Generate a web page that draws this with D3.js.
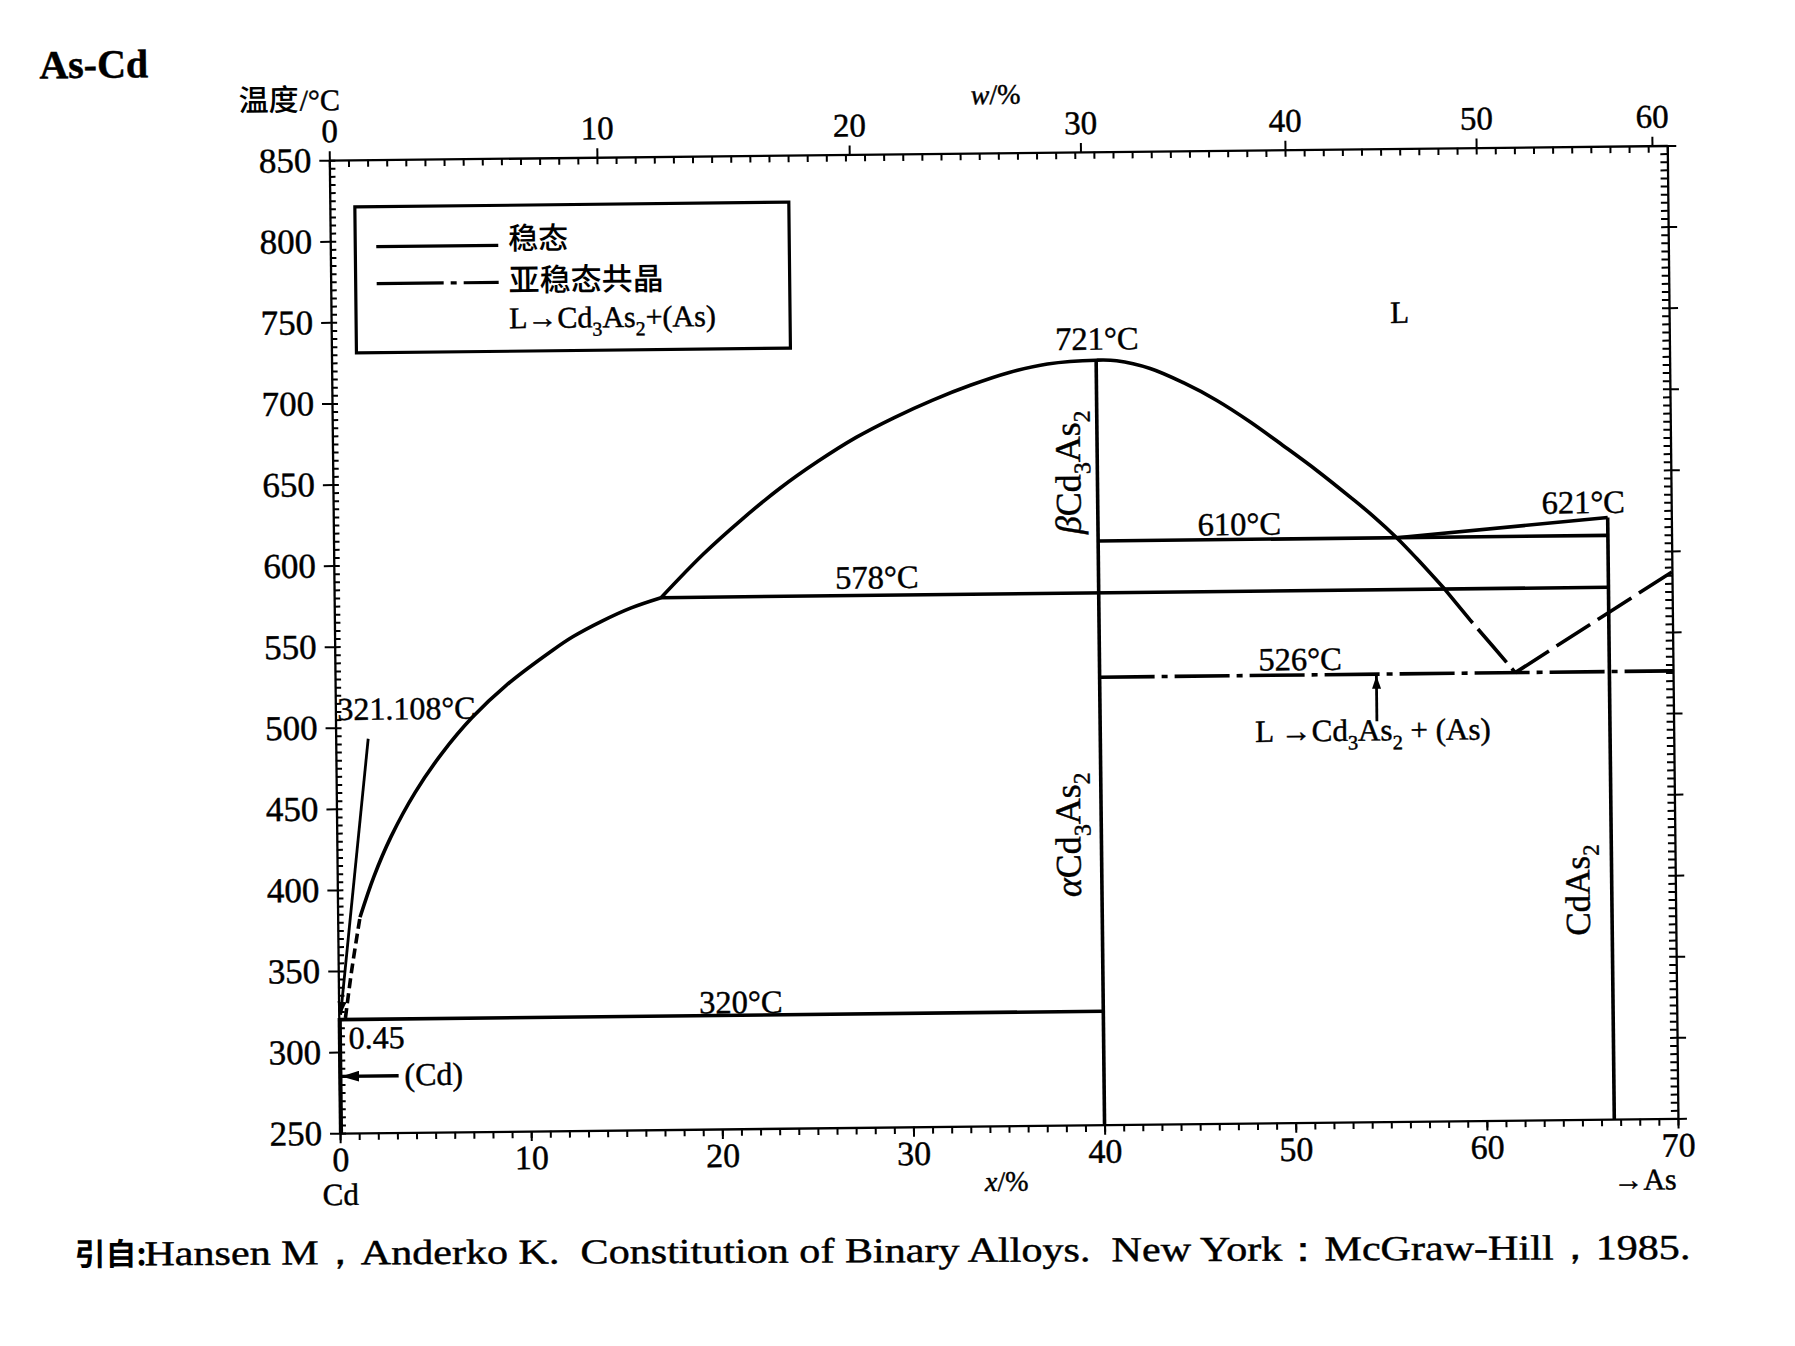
<!DOCTYPE html>
<html><head><meta charset="utf-8">
<script src="https://cdn.jsdelivr.net/npm/d3@7"></script>
<style>body{margin:0;background:#fff}svg{display:block}text{white-space:pre;stroke:#000;stroke-width:0.45px}</style>
</head><body>
<svg id="c" width="1795" height="1346"></svg>
<script>
// ---------- data ----------
const tempTicks = [250,300,350,400,450,500,550,600,650,700,750,800,850];
const xTicks = [0,10,20,30,40,50,60,70];
const wTickX = [0,14.0,27.2,39.3,50.0,60.0,69.2];
const wTickLabels = ["0","10","20","30","40","50","60"];

// Cd-side liquidus (metastable dashed part, then solid)
const liqCdMetaX = [0.35,0.7,1.17];
const liqCdMetaT = [321,350,383];
const liqCdX = [1.17,1.92,2.84,4.12,5.55,7.16,8.95,11.42,12.46,14.0,15.5,17.1];
const liqCdT = [383,408,432.5,459.5,483.5,505.5,525,546.5,554.5,564,571.8,578];
// Cd3As2 liquidus (stable)
const liqTopX = [17.1,19.33,21.35,23.37,25.39,27.4,29.41,31.43,33.44,35.45,37.45,40,41.07,42.82,44.55,46.27,48.01,49.74,51.48,53.2,54.4,55.62,56.66,58.1];
const liqTopT = [578,604.5,625.5,644.5,661,675.5,687.5,698,707,714.5,719.5,721.5,721,716,707,696,682.5,667.5,652,635.5,623.5,610,597,578];
// metastable extension down to 526
const liqMetaX = [58.1,59.41,60.61,61.75];
const liqMetaT = [578,558.8,542.1,526];
// As-side metastable liquidus
const asMetaX = [61.75,66.2,70];
const asMetaT = [526,559,587];
// CdAs2 liquidus
const cdas2X = [55.62,66.67];
const cdas2T = [610,621];
// invariant horizontals [x1,x2,T]
const eut320 = [0,40,320];
const eut578 = [17.1,66.67,578];
const per610 = [40,66.67,610];
const meta526 = [40,70,526];
// compound verticals [x,Ttop]
const cd3as2 = [40,721.5];
const cdas2 = [66.67,621];
const cdSolvus = [0.05,321];
// leader of Cd melting point
const leaderX = [1.7,0.1];
const leaderT = [493,323];

// ---------- layout ----------
const L=335,R=1673,TOP=154,BOT=1127;
const x=d3.scaleLinear().domain([0,70]).range([L,R]);
const y=d3.scaleLinear().domain([250,850]).range([BOT,TOP]);
const SERIF="'Liberation Serif','Times New Roman',serif";
const CJK="'Noto Sans CJK SC','Noto Sans CJK JP',sans-serif";
const LW=3.6;

const svg=d3.select('#c');
svg.append('rect').attr('width',1795).attr('height',1346).attr('fill','#fff').attr('stroke','none');
const defs=svg.append('defs');
defs.append('marker').attr('id','ah').attr('viewBox','0 0 18 11').attr('refX',18).attr('refY',5.5)
  .attr('markerWidth',18).attr('markerHeight',11).attr('markerUnits','userSpaceOnUse').attr('orient','auto')
  .append('path').attr('d','M0,0 L18,5.5 L0,11 Z').attr('fill','#000');
defs.append('marker').attr('id','ahs').attr('viewBox','0 0 13 9').attr('refX',13).attr('refY',4.5)
  .attr('markerWidth',13).attr('markerHeight',9).attr('markerUnits','userSpaceOnUse').attr('orient','auto')
  .append('path').attr('d','M0,0 L13,4.5 L0,9 Z').attr('fill','#000');

const g=svg.append('g').attr('transform','rotate(-0.63,897,673)');

// ---------- axes ----------
function styleAxis(fs){
  return sel=>{
    sel.attr('font-family',SERIF).attr('font-size',fs);
    sel.selectAll('path.domain').attr('stroke','#000').attr('stroke-width',2.3);
    sel.selectAll('.tick line').attr('stroke','#000').attr('stroke-width',2);
    sel.selectAll('.tick text').attr('fill','#000');
  };
}
const minorT=d3.range(250,851,5);
const minorX=d3.range(0,71,1);
// left
g.append('g').attr('transform',`translate(${L},0)`)
  .call(d3.axisLeft(y).tickValues(tempTicks).tickSize(10).tickSizeOuter(0).tickPadding(8)).call(styleAxis(35));
g.append('g').attr('transform',`translate(${L},0)`)
  .call(d3.axisRight(y).tickValues(minorT).tickSize(6).tickSizeOuter(0).tickFormat('')).call(styleAxis(35))
  .select('.domain').remove();
// bottom
g.append('g').attr('transform',`translate(0,${BOT})`)
  .call(d3.axisBottom(x).tickValues(xTicks).tickSize(10).tickSizeOuter(0).tickPadding(4)).call(styleAxis(34));
g.append('g').attr('transform',`translate(0,${BOT})`)
  .call(d3.axisBottom(x).tickValues(minorX).tickSize(7).tickSizeOuter(0).tickFormat('')).call(styleAxis(34))
  .select('.domain').remove();
// top (w/%)
g.append('g').attr('transform',`translate(0,${TOP})`)
  .call(d3.axisTop(x).tickValues(wTickX).tickFormat((d,i)=>wTickLabels[i]).tickSize(9).tickSizeOuter(0).tickPadding(9)).call(styleAxis(33));
g.append('g').attr('transform',`translate(0,${TOP})`)
  .call(d3.axisBottom(x).tickValues(minorX).tickSize(7).tickSizeOuter(0).tickFormat('')).call(styleAxis(33))
  .select('.domain').remove();
// right
g.append('g').attr('transform',`translate(${R},0)`)
  .call(d3.axisRight(y).tickValues(tempTicks).tickSize(9).tickSizeOuter(0).tickFormat('')).call(styleAxis(34));
g.append('g').attr('transform',`translate(${R},0)`)
  .call(d3.axisLeft(y).tickValues(minorT).tickSize(7).tickSizeOuter(0).tickFormat('')).call(styleAxis(34))
  .select('.domain').remove();

// ---------- lines ----------
const P=(xs,ts)=>xs.map((v,i)=>[v,ts[i]]);
const lin=d3.line().x(d=>x(d[0])).y(d=>y(d[1]));
const smooth=d3.line().x(d=>x(d[0])).y(d=>y(d[1])).curve(d3.curveCatmullRom.alpha(0.5));
const lines=g.append('g').attr('fill','none').attr('stroke','#000').attr('stroke-width',LW);
function path(gen,pts,dash,w){
  const p=lines.append('path').attr('d',gen(pts));
  if(dash) p.attr('stroke-dasharray',dash);
  if(w) p.attr('stroke-width',w);
  return p;
}
path(smooth,P(liqCdMetaX,liqCdMetaT),'10,5');
path(smooth,P(liqCdX,liqCdT));
path(smooth,P(liqTopX,liqTopT));
path(lin,P(liqMetaX,liqMetaT),'44,8');
path(lin,P(asMetaX,asMetaT),'40,9');
path(lin,P(cdas2X,cdas2T));
[eut320,eut578,per610].forEach(h=>path(lin,[[h[0],h[2]],[h[1],h[2]]]));
path(lin,[[meta526[0],meta526[2]],[meta526[1],meta526[2]]],'55,7,6,7');
[cd3as2,cdas2].forEach(v=>path(lin,[[v[0],v[1]],[v[0],250]]));
path(lin,[[cdSolvus[0],cdSolvus[1]],[cdSolvus[0],250]],null,4.2);
path(lin,P(leaderX,leaderT),null,2.8).attr('marker-end','url(#ahs)');
// (Cd) arrow and reaction arrow
path(lin,[[3.1,285],[0.1,285]],null,3.4).attr('marker-end','url(#ah)');
path(lin,[[54.48,497],[54.48,525]],null,2.8).attr('marker-end','url(#ahs)');

// ---------- text ----------
function txt(par,s,px,py,opt={}){
  const t=par.append('text').attr('x',px).attr('y',py).text(s)
    .attr('font-family',opt.ff||SERIF).attr('font-size',opt.fs||32.5).attr('fill','#000')
    .attr('text-anchor',opt.anchor||'start');
  if(opt.fw) t.attr('font-weight',opt.fw);
  if(opt.fst) t.attr('font-style',opt.fst);
  if(opt.nostroke) t.style('stroke','none');
  return t;
}
function formula(par,parts,px,py,fs,anchor,rot){
  const t=par.append('text').attr('font-family',SERIF).attr('font-size',fs).attr('fill','#000')
    .attr('text-anchor',anchor||'start');
  if(rot) t.attr('transform',`translate(${px},${py}) rotate(-90)`);
  else t.attr('x',px).attr('y',py);
  let sub=false;
  parts.forEach(p=>{
    const [s,isSub,it]=p;
    const ts=t.append('tspan').text(s);
    if(it) ts.attr('font-style','italic');
    if(isSub){ts.attr('font-size',fs*0.66); if(!sub){ts.attr('dy',fs*0.28);sub=true;}}
    else if(sub){ts.attr('dy',-fs*0.28);sub=false;}
  });
  return t;
}
const T=g.append('g');
txt(T,'721°C',x(40.05),y(728),{anchor:'middle'});
txt(T,'610°C',x(47.4),y(612.7),{anchor:'middle'});
txt(T,'578°C',x(28.4),y(582.3),{anchor:'middle'});
txt(T,'526°C',x(50.5),y(529),{anchor:'middle'});
txt(T,'621°C',x(65.4),y(623.8),{anchor:'middle'});
txt(T,'320°C',x(21.05),y(321.3),{anchor:'middle'});
txt(T,'L',x(55.9),y(742.4),{anchor:'middle',fs:31});
txt(T,'321.108°C',x(0.1),y(504.7),{fs:32});
txt(T,'0.45',x(0.5),y(302),{fs:32});
txt(T,'(Cd)',x(3.4),y(279),{fs:32});
formula(T,[['β',0,1],['Cd',0],['3',1],['As',0],['2',1]],x(39.1),y(652.5),36,'middle',true);
formula(T,[['α',0,1],['Cd',0],['3',1],['As',0],['2',1]],x(38.9),y(429),36,'middle',true);
formula(T,[['CdAs',0],['2',1]],x(65.5),y(391.5),35,'middle',true);
formula(T,[['L →Cd',0],['3',1],['As',0],['2',1],[' + (As)',0]],x(48.1),y(485),31,'start');

// axis titles
txt(T,'温度',245,104,{ff:CJK,fs:30,fw:500,nostroke:true});
txt(T,'/°C',306,104,{fs:30});
const wt=T.append('text').attr('x',1002).attr('y',105).attr('text-anchor','middle')
  .attr('font-family',SERIF).attr('font-size',28);
wt.append('tspan').attr('font-style','italic').text('w');
wt.append('tspan').text('/%');
const xt=T.append('text').attr('x',x(34.85)).attr('y',1192).attr('text-anchor','middle')
  .attr('font-family',SERIF).attr('font-size',28);
xt.append('tspan').attr('font-style','italic').text('x');
xt.append('tspan').text('/%');
txt(T,'Cd',x(0),1199,{anchor:'middle',fs:31});
txt(T,'→As',R-2,1198,{anchor:'end',fs:30});

// legend
const lg=g.append('g');
lg.append('rect').attr('x',360).attr('y',201).attr('width',434).attr('height',146)
  .attr('fill','none').attr('stroke','#000').attr('stroke-width',3.2);
lg.append('line').attr('x1',381).attr('x2',503).attr('y1',241).attr('y2',241).attr('stroke','#000').attr('stroke-width',3.2);
lg.append('line').attr('x1',381).attr('x2',503).attr('y1',278).attr('y2',278).attr('stroke','#000').attr('stroke-width',3.2)
  .attr('stroke-dasharray','67,7,6,7');
txt(lg,'稳态',513,245,{ff:CJK,fs:30,fw:500,nostroke:true});
txt(lg,'亚稳态共晶',513,287,{ff:CJK,fs:31,fw:500,nostroke:true});
formula(lg,[['L→Cd',0],['3',1],['As',0],['2',1],['+(As)',0]],513,324,30,'start');

// title and source
txt(g,'As-Cd',46,69,{fs:40,fw:'bold'});
const src=g.append('g').attr('transform','rotate(0.4,880,1258)');
txt(src,'引自:',68,1262,{ff:CJK,fs:31,fw:700,nostroke:true});
txt(src,'Hansen M，Anderko K.  Constitution of Binary Alloys.  New York：McGraw-Hill，1985.',138,1262,{fs:35})
  .attr('textLength',1546).attr('lengthAdjust','spacingAndGlyphs');
</script>
</body></html>
